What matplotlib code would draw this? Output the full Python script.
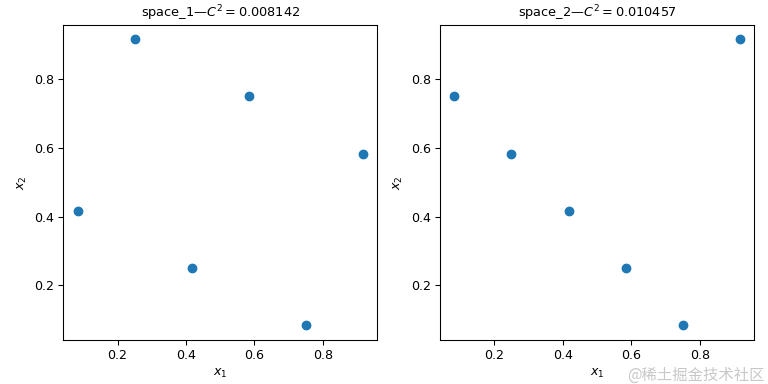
import matplotlib
matplotlib.use("Agg")
import matplotlib.pyplot as plt

titles = ["space_1—$C^2 = 0.008142$", "space_2—$C^2 = 0.010457$"]
space1_x1 = [0.0833, 0.25, 0.4167, 0.5833, 0.75, 0.9167]
space1_x2 = [0.4167, 0.9167, 0.25, 0.75, 0.0833, 0.5833]
space2_x1 = [0.0833, 0.25, 0.4167, 0.5833, 0.75, 0.9167]
space2_x2 = [0.75, 0.5833, 0.4167, 0.25, 0.0833, 0.9167]
ticks = [0.2, 0.4, 0.6, 0.8]

plt.rcParams['font.size'] = 9.5
fig, axes = plt.subplots(1, 2, figsize=(8, 4), dpi=96)
fig.subplots_adjust(left=63.3/768, right=754/768, top=1-25/384, bottom=1-339.5/384,
                    wspace=63/314)
for ax, t, xs, ys in zip(axes, titles, [space1_x1, space2_x1], [space1_x2, space2_x2]):
    ax.scatter(xs, ys, s=40, color='#1f77b4')
    ax.set_title(t, fontsize=9.7)
    ax.set_xlabel('$x_1$')
    ax.set_ylabel('$x_2$')
    ax.set_xticks(ticks)
    ax.set_yticks(ticks)

fig.text(0.995, 0.0, "@稀土掘金技术社区", ha='right', va='bottom', fontsize=11.5,
         color='#c8c8c8', family=['Noto Sans CJK SC', 'DejaVu Sans'])
fig.savefig("out.png", dpi=96)
